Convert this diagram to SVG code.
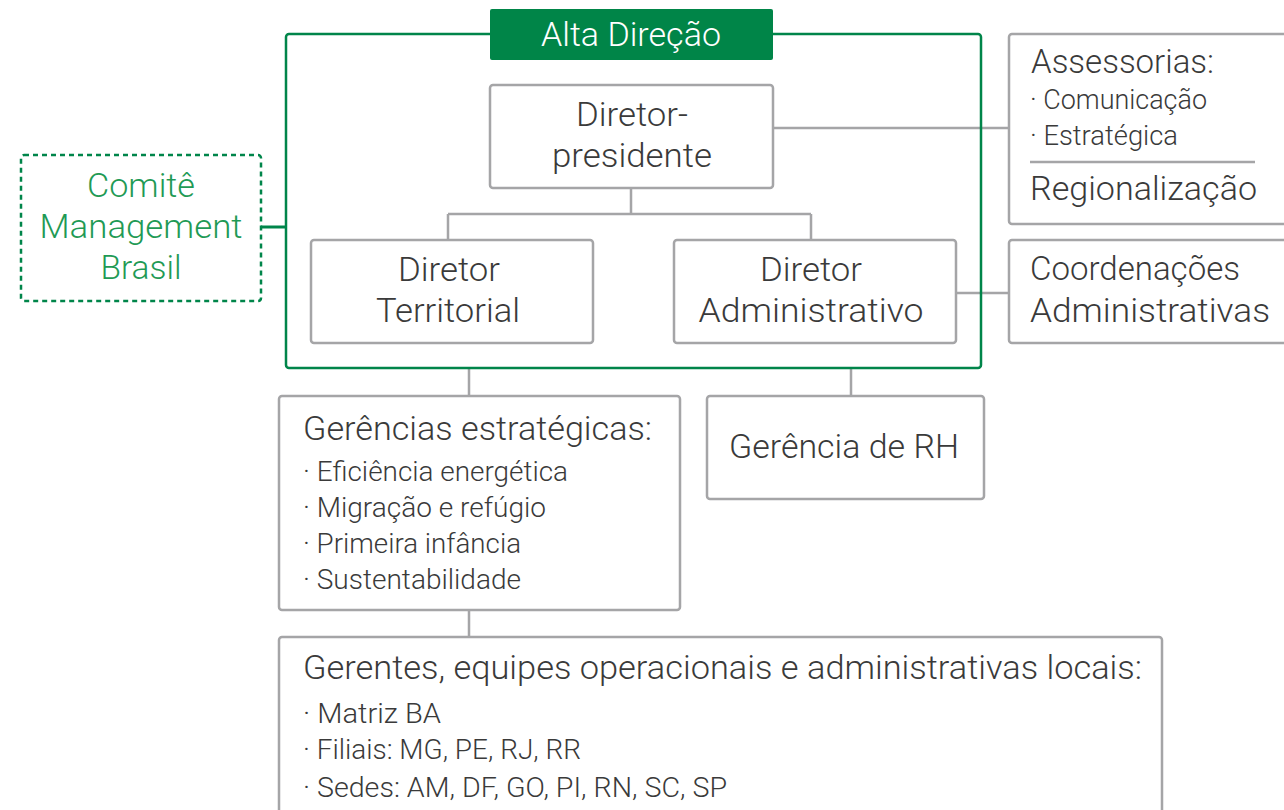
<svg xmlns="http://www.w3.org/2000/svg" width="1284" height="810" viewBox="0 0 1284 810">
<style>
.box{fill:#fff;stroke:#a5a5a7;stroke-width:2.5}
.conn{fill:none;stroke:#a5a5a7;stroke-width:2.5}
.t{font-family:Roboto,"Open Sans","Liberation Sans",sans-serif;font-weight:300;fill:#3a3a3a}
.big{font-size:34px}
.sm{font-size:28px}
.c{text-anchor:middle}
.g{fill:#1f9a55}
</style>
<rect width="1284" height="810" fill="#fff"/>
<g id="connectors">
<path class="conn" d="M631 188V214M448 214H811M448 214V240M811 214V240"/>
<path class="conn" d="M773 128H1009"/>
<path class="conn" d="M956 293H1009"/>
<path class="conn" d="M469 368V396M851 368V396M469 610V637"/>
<path d="M261 227H286" fill="none" stroke="#00854a" stroke-width="3"/>
</g>
<g id="alta-direcao">
<rect x="286" y="34" width="695" height="334" rx="3" fill="none" stroke="#00854a" stroke-width="2.5"/>
<rect x="490" y="9" width="283" height="51" rx="2" fill="#008548"/>
<text class="t big c" x="631" y="46" style="fill:#fff" textLength="180" lengthAdjust="spacingAndGlyphs">Alta Direção</text>
</g>
<g id="diretor-presidente">
<rect class="box" x="490" y="85" width="283" height="103" rx="3"/>
<text class="t big c" x="632" y="126" textLength="112" lengthAdjust="spacingAndGlyphs">Diretor-</text>
<text class="t big c" x="632" y="167" textLength="160" lengthAdjust="spacingAndGlyphs">presidente</text>
</g>
<g id="diretor-territorial">
<rect class="box" x="311" y="240" width="282" height="103" rx="3"/>
<text class="t big c" x="449" y="281" textLength="102" lengthAdjust="spacingAndGlyphs">Diretor</text>
<text class="t big c" x="448" y="322" textLength="144" lengthAdjust="spacingAndGlyphs">Territorial</text>
</g>
<g id="diretor-administrativo">
<rect class="box" x="674" y="240" width="282" height="103" rx="3"/>
<text class="t big c" x="811" y="281" textLength="102" lengthAdjust="spacingAndGlyphs">Diretor</text>
<text class="t big c" x="811" y="322" textLength="225" lengthAdjust="spacingAndGlyphs">Administrativo</text>
</g>
<g id="comite">
<rect x="21" y="155" width="240" height="146" rx="3" fill="#fff" stroke="#00854a" stroke-width="2.5" stroke-dasharray="5 4"/>
<text class="t big c g" x="141" y="197" textLength="108" lengthAdjust="spacingAndGlyphs">Comitê</text>
<text class="t big c g" x="141" y="238" textLength="203" lengthAdjust="spacingAndGlyphs">Management</text>
<text class="t big c g" x="141" y="279" textLength="81" lengthAdjust="spacingAndGlyphs">Brasil</text>
</g>
<g id="assessorias">
<rect class="box" x="1009" y="34" width="290" height="190" rx="3"/>
<text class="t big" x="1031" y="73" textLength="183" lengthAdjust="spacingAndGlyphs">Assessorias:</text>
<text class="t sm" x="1030" y="109" textLength="177" lengthAdjust="spacingAndGlyphs">· Comunicação</text>
<text class="t sm" x="1030" y="145" textLength="148" lengthAdjust="spacingAndGlyphs">· Estratégica</text>
<line x1="1030" y1="162" x2="1255" y2="162" stroke="#a5a5a7" stroke-width="2.5"/>
<text class="t big" x="1030" y="200" textLength="227" lengthAdjust="spacingAndGlyphs">Regionalização</text>
</g>
<g id="coordenacoes">
<rect class="box" x="1009" y="240" width="290" height="103" rx="3"/>
<text class="t big" x="1030" y="280" textLength="210" lengthAdjust="spacingAndGlyphs">Coordenações</text>
<text class="t big" x="1030" y="322" textLength="240" lengthAdjust="spacingAndGlyphs">Administrativas</text>
</g>
<g id="gerencias-estrategicas">
<rect class="box" x="279" y="396" width="401" height="214" rx="3"/>
<text class="t big" x="303" y="440" textLength="349" lengthAdjust="spacingAndGlyphs">Gerências estratégicas:</text>
<text class="t sm" x="303" y="481" textLength="265" lengthAdjust="spacingAndGlyphs">· Eficiência energética</text>
<text class="t sm" x="303" y="517" textLength="243" lengthAdjust="spacingAndGlyphs">· Migração e refúgio</text>
<text class="t sm" x="303" y="553" textLength="218" lengthAdjust="spacingAndGlyphs">· Primeira infância</text>
<text class="t sm" x="303" y="589" textLength="218" lengthAdjust="spacingAndGlyphs">· Sustentabilidade</text>
</g>
<g id="gerencia-rh">
<rect class="box" x="707" y="396" width="277" height="103" rx="3"/>
<text class="t big c" x="844" y="458" textLength="230" lengthAdjust="spacingAndGlyphs">Gerência de RH</text>
</g>
<g id="gerentes">
<rect class="box" x="279" y="637" width="883" height="190" rx="3"/>
<text class="t big" x="303" y="679" textLength="839" lengthAdjust="spacingAndGlyphs">Gerentes, equipes operacionais e administrativas locais:</text>
<text class="t sm" x="303" y="723" textLength="138" lengthAdjust="spacingAndGlyphs">· Matriz BA</text>
<text class="t sm" x="303" y="759" textLength="278" lengthAdjust="spacingAndGlyphs">· Filiais: MG, PE, RJ, RR</text>
<text class="t sm" x="303" y="797" textLength="424" lengthAdjust="spacingAndGlyphs">· Sedes: AM, DF, GO, PI, RN, SC, SP</text>
</g>
</svg>
